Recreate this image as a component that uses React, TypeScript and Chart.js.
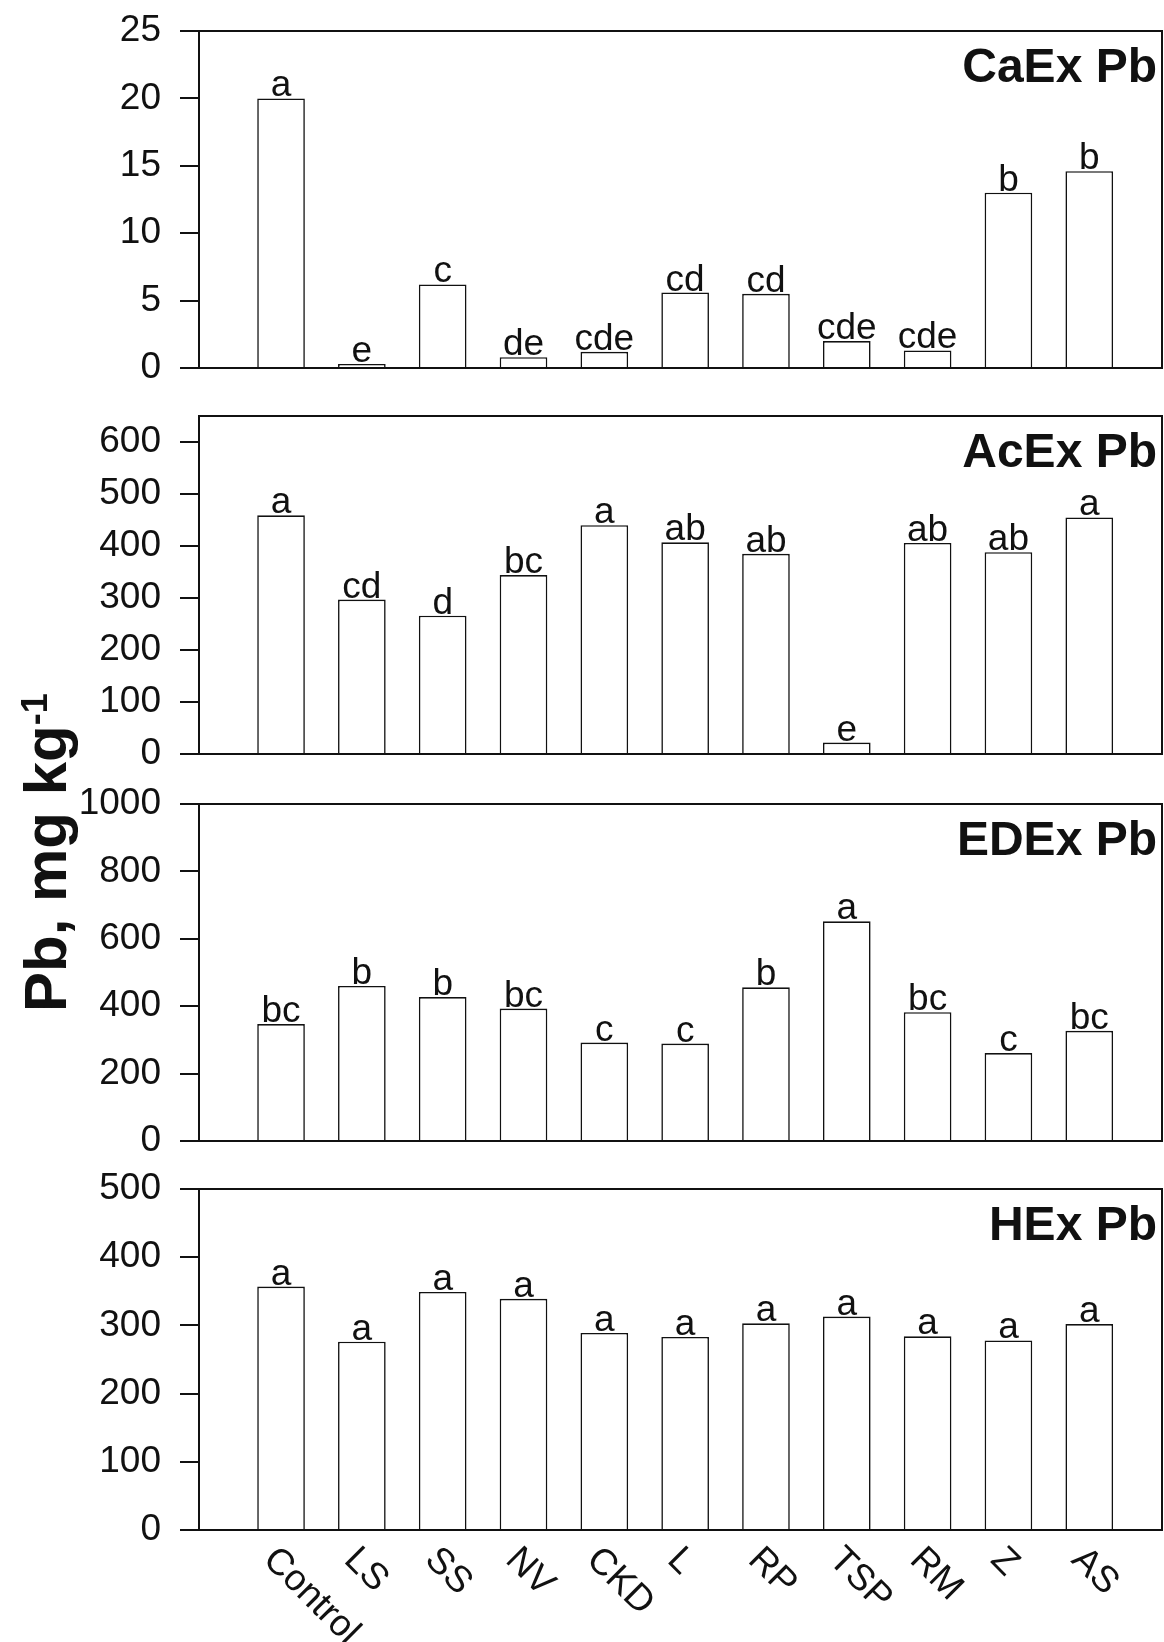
import React, { useEffect, useRef } from 'react';
import { Chart, registerables } from 'chart.js';

Chart.register(...registerables);

// ---------- data ----------
const categories = ['Control', 'LS', 'SS', 'NV', 'CKD', 'L', 'RP', 'TSP', 'RM', 'Z', 'AS'];

const caexValues = [20.0, 0.3, 6.2, 0.8, 1.2, 5.6, 5.5, 2.0, 1.3, 13.0, 14.6];
const caexLetters = ['a', 'e', 'c', 'de', 'cde', 'cd', 'cd', 'cde', 'cde', 'b', 'b'];

const acexValues = [459, 297, 266, 344, 440, 407, 385, 22, 406, 388, 455];
const acexLetters = ['a', 'cd', 'd', 'bc', 'a', 'ab', 'ab', 'e', 'ab', 'ab', 'a'];

const edexValues = [347, 460, 427, 393, 292, 289, 456, 652, 382, 261, 327];
const edexLetters = ['bc', 'b', 'b', 'bc', 'c', 'c', 'b', 'a', 'bc', 'c', 'bc'];

const hexValues = [357, 276, 349, 339, 289, 283, 303, 313, 284, 278, 302];
const hexLetters = ['a', 'a', 'a', 'a', 'a', 'a', 'a', 'a', 'a', 'a', 'a'];

const panelTitles = ['CaEx Pb', 'AcEx Pb', 'EDEx Pb', 'HEx Pb'];
const yMaxes = [25, 650, 1000, 500];
const ySteps = [5, 100, 200, 100];

const yAxisTitle = 'Pb, mg kg';
const yAxisTitleSup = '-1';

// ---------- layout (styles only) ----------
const FONT = '"Liberation Sans", Arial, Helvetica, sans-serif';
const PAGE_W = 1164;
const PAGE_H = 1642;
const PLOT_LEFT = 199;
const PAD_TOP = 46;
const PAD_BOTTOM = 46;
const PANEL_BOXES = [
  { top: 31, bottom: 368 },
  { top: 416, bottom: 754 },
  { top: 804, bottom: 1141 },
  { top: 1189, bottom: 1530 },
];

type PanelProps = {
  values: number[];
  letters: string[];
  title: string;
  max: number;
  step: number;
  box: { top: number; bottom: number };
  showX: boolean;
};

function Panel({ values, letters, title, max, step, box, showX }: PanelProps) {
  const ref = useRef<HTMLCanvasElement | null>(null);
  const padBottom = showX ? PAGE_H - box.bottom : PAD_BOTTOM;
  const height = PAD_TOP + (box.bottom - box.top) + padBottom;

  useEffect(() => {
    if (!ref.current) return;
    const overlay = {
      id: 'overlay' + title.replace(/\s/g, ''),
      afterDatasetsDraw(chart: any) {
        const { ctx, chartArea: a } = chart;
        ctx.save();
        // frame
        ctx.strokeStyle = '#111';
        ctx.lineWidth = 2;
        ctx.strokeRect(a.left, a.top, a.right - a.left, a.bottom - a.top);
        // significance letters
        const meta = chart.getDatasetMeta(0);
        ctx.fillStyle = '#111';
        ctx.font = `37px ${FONT}`;
        ctx.textAlign = 'center';
        ctx.textBaseline = 'alphabetic';
        meta.data.forEach((el: any, i: number) => {
          ctx.fillText(letters[i], el.x, el.y - 2);
        });
        // panel title
        ctx.font = `bold 48px ${FONT}`;
        ctx.textAlign = 'right';
        ctx.fillText(title, a.right - 5, a.top + 51);
        // x category labels (rotated 45deg clockwise)
        if (showX) {
          const xs = chart.scales.x;
          ctx.font = `37px ${FONT}`;
          ctx.textAlign = 'left';
          ctx.textBaseline = 'middle';
          categories.forEach((c, i) => {
            const px = xs.getPixelForValue(i);
            ctx.save();
            ctx.translate(px - 12, a.bottom + 24);
            ctx.rotate(Math.PI / 4);
            ctx.fillText(c, 0, 0);
            ctx.restore();
          });
        }
        ctx.restore();
      },
    };

    const chart = new Chart(ref.current, {
      type: 'bar',
      data: {
        datasets: [
          {
            data: categories.map((c, i) => ({ x: i, y: values[i] })),
            backgroundColor: '#ffffff',
            borderColor: '#111',
            borderWidth: 1.6,
            borderSkipped: 'start',
            barPercentage: 0.655,
            categoryPercentage: 1,
          } as any,
        ],
      },
      options: {
        animation: false,
        responsive: false,
        maintainAspectRatio: false,
        devicePixelRatio: 1,
        layout: { padding: { top: PAD_TOP, right: 2, bottom: padBottom, left: 0 } },
        plugins: {
          legend: { display: false },
          tooltip: { enabled: false },
        },
        scales: {
          x: {
            type: 'linear',
            display: false,
            min: -1.015,
            max: 10.9,
            offset: false,
            grid: { offset: false },
          },
          y: {
            type: 'linear',
            min: 0,
            max: max,
            border: { display: true, color: '#111', width: 2 },
            grid: {
              display: true,
              drawOnChartArea: false,
              drawTicks: true,
              tickLength: 19,
              color: '#111',
              lineWidth: 2,
            },
            ticks: {
              stepSize: step,
              includeBounds: false,
              padding: 19,
              color: '#111',
              font: { family: FONT, size: 37 },
              callback: (v: any) => String(v),
            },
            afterFit: (s: any) => {
              s.width = PLOT_LEFT;
            },
          },
        } as any,
      },
      plugins: [overlay],
    });
    return () => chart.destroy();
  }, []);

  return (
    <canvas
      ref={ref}
      width={PAGE_W}
      height={height}
      style={{ position: 'absolute', left: 0, top: box.top - PAD_TOP, width: PAGE_W, height }}
    />
  );
}

export default function App() {
  const series = [caexValues, acexValues, edexValues, hexValues];
  const letters = [caexLetters, acexLetters, edexLetters, hexLetters];
  return (
    <div
      style={{
        position: 'absolute',
        left: 0,
        top: 0,
        width: PAGE_W,
        height: PAGE_H,
        background: '#ffffff',
        overflow: 'hidden',
      }}
    >
      {series.map((v, k) => (
        <Panel
          key={k}
          values={v}
          letters={letters[k]}
          title={panelTitles[k]}
          max={yMaxes[k]}
          step={ySteps[k]}
          box={PANEL_BOXES[k]}
          showX={k === 3}
        />
      ))}
      <div
        style={{
          position: 'absolute',
          left: 16,
          top: 1012,
          transform: 'rotate(-90deg)',
          transformOrigin: 'left top',
          whiteSpace: 'nowrap',
          fontFamily: FONT,
          fontWeight: 'bold',
          fontSize: 60,
          lineHeight: 1,
          color: '#111',
        }}
      >
        {yAxisTitle}
        <span style={{ fontSize: '0.6em', position: 'relative', top: -19 }}>{yAxisTitleSup}</span>
      </div>
    </div>
  );
}
